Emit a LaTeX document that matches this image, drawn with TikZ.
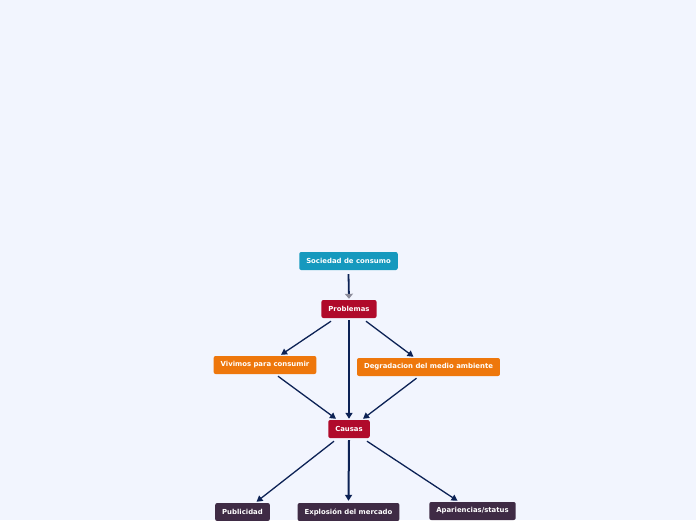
\documentclass[tikz,border=0pt]{standalone}
\usepackage{fontspec}
\setmainfont{DejaVu Sans}
\usetikzlibrary{arrows.meta}
\definecolor{fondo}{HTML}{F2F5FE}
\definecolor{azul}{HTML}{1699BE}
\definecolor{rojo}{HTML}{B00A2B}
\definecolor{naranja}{HTML}{EE770C}
\definecolor{morado}{HTML}{3F2B45}
\definecolor{linea}{HTML}{0C2255}
\definecolor{gris}{HTML}{8C8C9A}
\tikzset{
  caja/.style={rounded corners=2pt, minimum height=18pt, inner xsep=7pt, inner ysep=0pt,
    text=white, font=\fontsize{6.9}{7}\selectfont\bfseries},
  flecha/.style={draw=linea, line width=1.3pt, -{Triangle[length=6pt,width=6.5pt]}},
  gruesa/.style={draw=linea, line width=2pt, -{Triangle[length=6pt,width=7pt]}}
}
\begin{document}
\begin{tikzpicture}[x=1pt,y=-1pt]
\fill[fondo] (0,0) rectangle (696,520); % fondo
\useasboundingbox (0,0) rectangle (696,520);
\clip (0,0) rectangle (696,520);
% nivel 1
\node[caja, fill=azul] (sociedad) at (348.5,261) {Sociedad de consumo};
\node[caja, fill=rojo] (problemas) at (349,309) {Problemas};
% nivel 2
\node[caja, fill=naranja] (vivimos) at (265,365) {Vivimos para consumir};
\node[caja, fill=naranja] (degradacion) at (428.5,367) {Degradacion del medio ambiente};
\node[caja, fill=rojo] (causas) at (349,429) {Causas};
% nivel 3
\node[caja, fill=morado] (publicidad) at (242.5,512) {Publicidad};
\node[caja, fill=morado] (explosion) at (348.5,512) {Explosión del mercado};
\node[caja, fill=morado] (apariencias) at (472.5,511) {Apariencias/status};
% conectores
\draw[draw=linea, line width=1.8pt, -{Triangle[length=5pt,width=8pt,fill=gris,color=gris]}]
  ([yshift=-4pt]sociedad.south) -- ([yshift=1pt]problemas.north);
\draw[flecha] ([xshift=-18pt,yshift=-3pt]problemas.south) -- ([xshift=16pt,yshift=1pt]vivimos.north);
\draw[flecha] ([xshift=17pt,yshift=-3pt]problemas.south) -- ([xshift=-15pt,yshift=1pt]degradacion.north);
\draw[gruesa] ([yshift=-2pt]problemas.south) -- ([yshift=1pt]causas.north);
\draw[flecha] ([xshift=13pt,yshift=-2pt]vivimos.south) -- ([xshift=-13pt,yshift=1pt]causas.north);
\draw[flecha] ([xshift=-12pt,yshift=-2pt]degradacion.south) -- ([xshift=14pt,yshift=1pt]causas.north);
\draw[flecha] ([xshift=-15pt,yshift=-3pt]causas.south) -- ([xshift=14pt,yshift=1pt]publicidad.north);
\draw[gruesa] ([yshift=-2pt]causas.south) -- ([yshift=2pt]explosion.north);
\draw[flecha] ([xshift=18pt,yshift=-3pt]causas.south) -- ([xshift=-15pt,yshift=1pt]apariencias.north);
\end{tikzpicture}
\end{document}
